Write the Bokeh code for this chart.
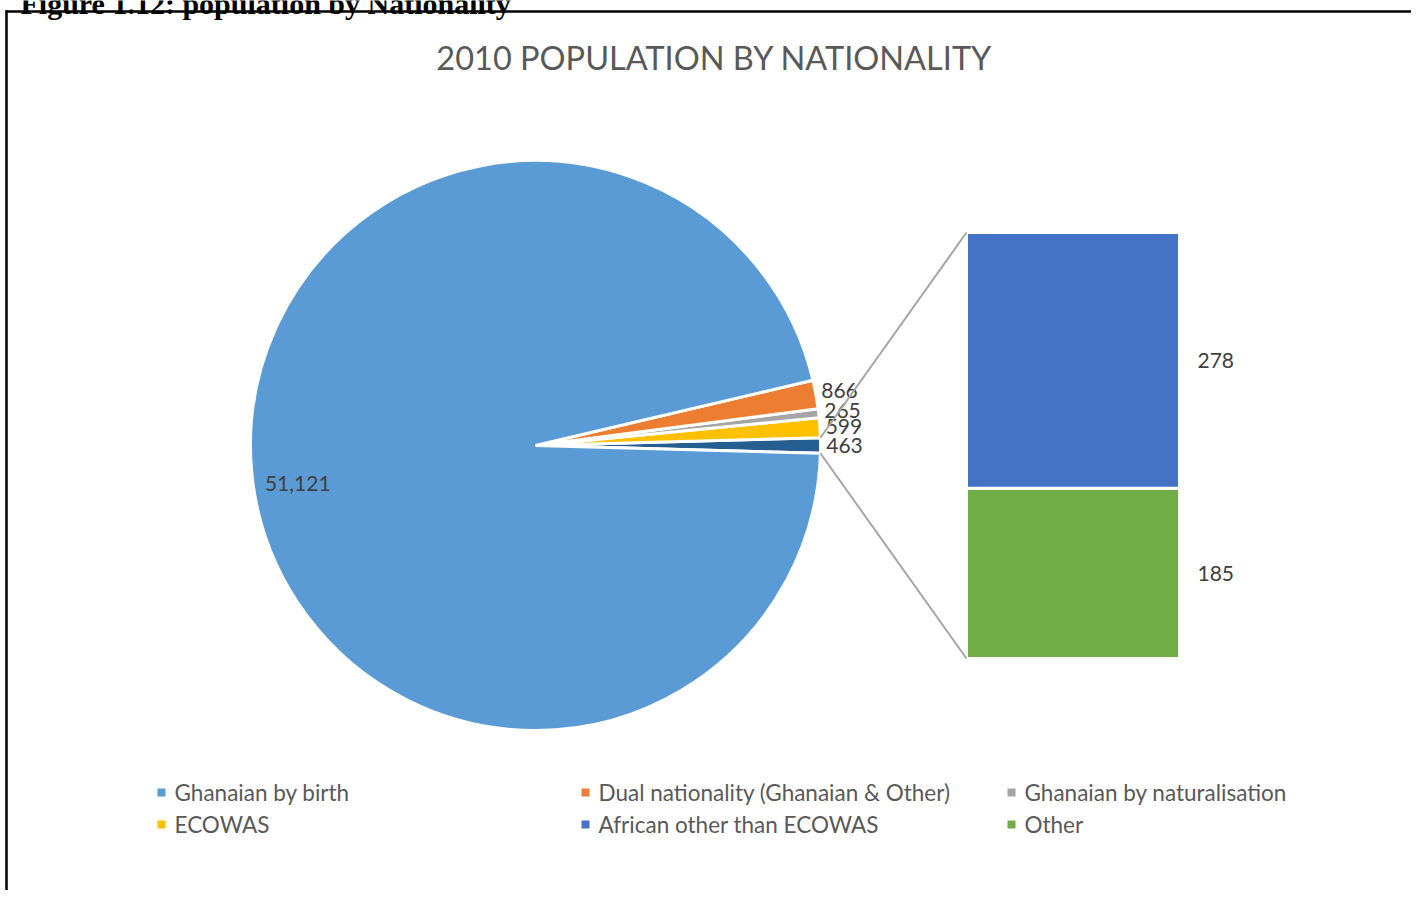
import numpy as np
from bokeh.plotting import figure
from bokeh.models import Range1d
from bokeh.core.properties import value
from bokeh.embed import file_html
from bokeh.resources import INLINE

# ---------------- data ----------------
header = "Figure 1.12: population by Nationality"
title = "2010 POPULATION BY NATIONALITY"
categories = ["Ghanaian by birth", "Dual nationality (Ghanaian & Other)",
              "Ghanaian by naturalisation", "ECOWAS",
              "African other than ECOWAS", "Other"]
values = [51121, 866, 265, 599, 278, 185]
colors = ["#5B9BD5", "#ED7D31", "#A5A5A5", "#FFC000", "#4472C4", "#70AD47"]
combined_color = "#255E91"

# ---------------- layout ----------------
W, H = 1411, 890
FONT = "Lato"


def px(X):
    return X


def py(Y):
    return H - Y


p = figure(width=W, height=H, x_range=Range1d(0, W), y_range=Range1d(0, H),
           output_backend="svg", toolbar_location=None, min_border=0,
           x_axis_location=None, y_axis_location=None)
p.grid.visible = False
p.outline_line_color = None
p.background_fill_color = "white"
p.border_fill_color = "white"

# document header (cut off at top, as in the source document) and frame
p.text(x=[px(20)], y=[py(3)], text=[header], text_font=value("Liberation Serif"),
       text_font_style="bold", text_font_size="30px", text_color="black",
       text_align="left", text_baseline="alphabetic")
p.segment(x0=[px(5), px(6)], y0=[py(11), 0], x1=[W, px(6)], y1=[py(11), py(10)],
          line_color="black", line_width=2.5)

# title
p.text(x=[px(714)], y=[py(57)], text=[title], text_font=value(FONT),
       text_font_size="32.5px", text_color="#595959", text_align="center",
       text_baseline="middle")

# ---------------- pie ----------------
cx, cy, R = px(535), py(445), 285
combined = values[4] + values[5]
total = values[0] + values[1] + values[2] + values[3] + combined
# order counter-clockwise starting with combined slice centred at 0 rad
order_vals = [combined, values[3], values[2], values[1], values[0]]
order_cols = [combined_color, colors[3], colors[2], colors[1], colors[0]]
order_lbls = [f"{v:,}" for v in order_vals]
fr = np.array(order_vals) / total * 2 * np.pi
start0 = -fr[0] / 2
ends = start0 + np.cumsum(fr)
starts = ends - fr
p.wedge(x=cx, y=cy, radius=R, start_angle=list(starts), end_angle=list(ends),
        fill_color=order_cols, line_color="white", line_width=3)

mids = (starts + ends) / 2
lx, ly = [], []
for i, m in enumerate(mids):
    if i < 4:
        rr = R + 24
        lx.append(cx + rr * np.cos(m))
        ly.append(cy + rr * np.sin(m))
    else:
        rr = 0.845 * R
        a = m + np.radians(3.3)
        lx.append(cx + rr * np.cos(a))
        ly.append(cy + rr * np.sin(a))
p.text(x=lx, y=ly, text=order_lbls, text_font=value(FONT),
       text_font_size="21px", text_color="#404040", text_align="center",
       text_baseline="middle")

# ---------------- bar of pie ----------------
bar_bottom_d, bar_top_d = py(658), py(232)
k = (bar_top_d - bar_bottom_d) / combined
p.extra_y_ranges = {"bar": Range1d(-bar_bottom_d / k, (H - bar_bottom_d) / k)}
bx0, bx1 = px(966), px(1179)
bar_vals = [values[5], values[4]]
bar_cols = [colors[5], colors[4]]
b_bottom = np.concatenate([[0], np.cumsum(bar_vals)[:-1]])
b_top = np.cumsum(bar_vals)
p.quad(left=bx0, right=bx1, bottom=list(b_bottom), top=list(b_top),
       fill_color=bar_cols, line_color="white", line_width=3, y_range_name="bar")
p.text(x=[bx1 + 18] * 2, y=list((b_bottom + b_top) / 2),
       text=[str(v) for v in bar_vals], text_font=value(FONT),
       text_font_size="21px", text_color="#404040", text_align="left",
       text_baseline="middle", y_range_name="bar")

# connector lines
a_hi, a_lo = ends[0], starts[0]
p.segment(x0=[cx + R * np.cos(a_hi), cx + R * np.cos(a_lo)],
          y0=[cy + R * np.sin(a_hi), cy + R * np.sin(a_lo)],
          x1=[bx0, bx0],
          y1=[bar_bottom_d + combined * k, bar_bottom_d],
          line_color="#A5A5A5", line_width=2)

# ---------------- legend ----------------
leg_x = [px(161), px(585), px(1011)]
leg_y = [py(792), py(824)]
sx, sy, tx, ty = [], [], [], []
for i, name in enumerate(categories):
    r, c = divmod(i, 3)
    sx.append(leg_x[c])
    sy.append(leg_y[r])
    tx.append(leg_x[c] + 13)
    ty.append(leg_y[r])
p.rect(x=sx, y=sy, width=8, height=8, fill_color=colors, line_color=None)
p.text(x=tx, y=ty, text=categories, text_font=value(FONT),
       text_font_size="22.5px", text_color="#595959", text_align="left",
       text_baseline="middle")

open("out.html", "w").write(file_html(p, INLINE))
